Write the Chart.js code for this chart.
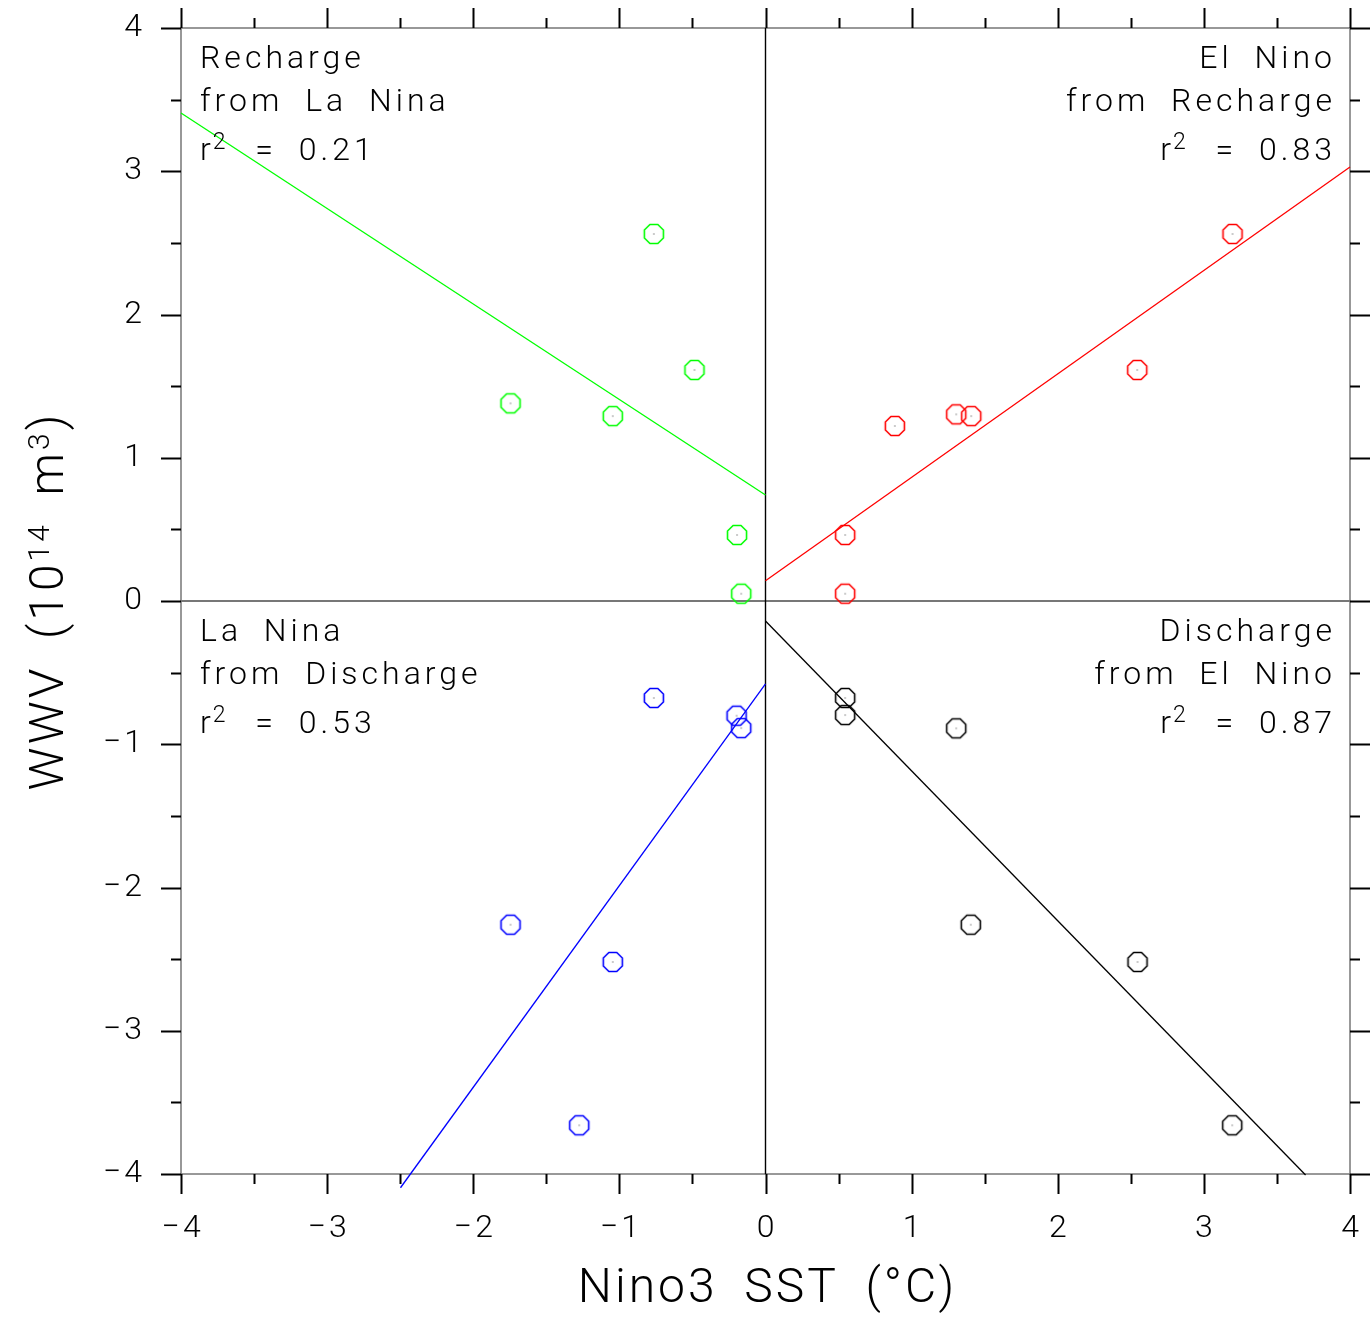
<!DOCTYPE html>
<html>
<head>
<meta charset="utf-8">
<script src="https://cdn.jsdelivr.net/npm/chart.js@4.4.1/dist/chart.umd.min.js"></script>
<style>
  html, body { margin:0; padding:0; background:#fff; }
  #wrap { width:1371px; height:1320px; }
</style>
</head>
<body>
<div id="wrap"><canvas id="c" width="1371" height="1320"></canvas></div>
<script>
// Scatter points per phase (Nino3 SST in °C, WWV in 10^14 m^3)
const rechargeX = [-1.745, -1.045, -0.764, -0.486, -0.195, -0.166]
const rechargeY = [1.380, 1.291, 2.562, 1.613, 0.461, 0.051]
const elNinoX = [0.545, 0.545, 0.885, 1.305, 1.408, 2.544, 3.196]
const elNinoY = [0.461, 0.051, 1.222, 1.303, 1.291, 1.613, 2.562]
const dischargeX = [0.545, 0.545, 1.305, 1.405, 2.546, 3.194]
const dischargeY = [-0.677, -0.796, -0.889, -2.260, -2.520, -3.660]
const laNinaX = [-1.745, -1.045, -1.275, -0.764, -0.198, -0.166]
const laNinaY = [-2.260, -2.520, -3.660, -0.677, -0.801, -0.887]

// Regression line end points
const rechargeFitX = [-4, 0], rechargeFitY = [3.407, 0.740]
const elNinoFitX = [0, 4], elNinoFitY = [0.142, 3.030]
const dischargeFitX = [0, 3.696], dischargeFitY = [-0.140, -4.007]
const laNinaFitX = [-2.498, 0], laNinaFitY = [-4.096, -0.579]

// Axis ranges and ticks
const xRange = [-4, 4], yRange = [-4, 4]
const tickStep = 0.5

// Quadrant labels
const quadLabels = [
  { pos: 'tl', lines: ['Recharge', 'from La Nina'], r2: '0.21' },
  { pos: 'tr', lines: ['El Nino', 'from Recharge'], r2: '0.83' },
  { pos: 'bl', lines: ['La Nina', 'from Discharge'], r2: '0.53' },
  { pos: 'br', lines: ['Discharge', 'from El Nino'], r2: '0.87' }
]
const xTitle = 'Nino3 SST (°C)'
const yTitleParts = [['WWV (10', false], ['14', true], [' m', false], ['3', true], [')', false]]

const FONT = 'Roboto, "DejaVu Sans", sans-serif'

function zip(xs, ys){ return xs.map((x,i)=>({x, y:ys[i]})) }
function fmtTick(v){
  if (Math.abs(v - Math.round(v)) > 1e-6) return ''
  return v < 0 ? '\u2212\u200A' + Math.abs(v) : String(v)
}

function octagon(color){
  const c = document.createElement('canvas'); c.width = 26; c.height = 26
  const g = c.getContext('2d')
  g.strokeStyle = color; g.lineWidth = 1.6
  g.beginPath()
  for (let k=0;k<8;k++){
    const a = (22.5 + 45*k) * Math.PI/180
    const px = 13 + 10.3*Math.cos(a), py = 13 + 10.3*Math.sin(a)
    k ? g.lineTo(px,py) : g.moveTo(px,py)
  }
  g.closePath(); g.stroke()
  g.fillStyle = '#333'; g.fillRect(12.5,12.5,1,1)
  return c
}

function scatterSet(label, xs, ys, color){
  return { type:'scatter', label, data: zip(xs, ys), pointStyle: octagon(color),
    pointRadius: 10, pointHoverRadius: 10, borderColor: color, backgroundColor: color, order: 1 }
}
function fitSet(label, xs, ys, color){
  return { type:'line', label, data: zip(xs, ys), borderColor: color, borderWidth: 1.3,
    pointRadius: 0, fill: false, clip: false, order: 2 }
}

// frame, zero lines, outward ticks
const framePlugin = {
  id: 'frame',
  beforeDatasetsDraw(chart){
    const {ctx, chartArea:a, scales:{x, y}} = chart
    ctx.save()
    ctx.lineWidth = 1.5
    ctx.strokeStyle = '#777'
    ctx.strokeRect(a.left, a.top, a.right - a.left, a.bottom - a.top)
    const y0 = y.getPixelForValue(0), x0 = x.getPixelForValue(0)
    ctx.beginPath(); ctx.moveTo(a.left, y0); ctx.lineTo(a.right, y0); ctx.lineWidth = 2; ctx.stroke()
    ctx.strokeStyle = '#000'; ctx.lineWidth = 1.4
    ctx.beginPath(); ctx.moveTo(x0, a.top); ctx.lineTo(x0, a.bottom); ctx.stroke()
    ctx.restore()
  },
  afterDraw(chart){
    const {ctx, chartArea:a, scales:{x, y}} = chart
    ctx.save()
    ctx.strokeStyle = '#000'; ctx.lineWidth = 2
    ctx.beginPath()
    for (let v = xRange[0]; v <= xRange[1] + 1e-9; v += tickStep){
      const p = Math.round(x.getPixelForValue(v)) + 0.5
      const len = Math.abs(v - Math.round(v)) < 1e-6 ? 20 : 10
      ctx.moveTo(p, a.bottom); ctx.lineTo(p, a.bottom + len)
      ctx.moveTo(p, a.top); ctx.lineTo(p, a.top - len)
    }
    for (let v = yRange[0]; v <= yRange[1] + 1e-9; v += tickStep){
      const p = Math.round(y.getPixelForValue(v)) + 0.5
      const len = Math.abs(v - Math.round(v)) < 1e-6 ? 20 : 10
      ctx.moveTo(a.left, p); ctx.lineTo(a.left - len, p)
      ctx.moveTo(a.right, p); ctx.lineTo(a.right + len, p)
    }
    ctx.stroke()
    ctx.restore()
  }
}

function setFont(ctx, size){ ctx.font = `300 ${size}px ${FONT}` }

// quadrant annotations and axis titles
const textPlugin = {
  id: 'texts',
  afterDatasetsDraw(chart){
    const {ctx, chartArea:a, scales:{x, y}} = chart
    const y0 = y.getPixelForValue(0)
    ctx.save()
    ctx.fillStyle = '#000'
    ctx.textBaseline = 'alphabetic'
    ctx.letterSpacing = '4px'; ctx.wordSpacing = '10px'
    quadLabels.forEach(q => {
      const top = q.pos[0] === 't' ? a.top : y0
      const left = q.pos[1] === 'l'
      const bases = [top + 40, top + 83, top + 132]
      setFont(ctx, 32)
      q.lines.forEach((s, i) => {
        ctx.textAlign = left ? 'left' : 'right'
        ctx.fillText(s, left ? a.left + 19 : a.right - 14, bases[i])
      })
      // r^2 = value
      ctx.textAlign = 'left'
      setFont(ctx, 32); const wr = ctx.measureText('r').width
      setFont(ctx, 23); const ws = ctx.measureText('2').width
      setFont(ctx, 32); const rest = ' = ' + q.r2; const wv = ctx.measureText(rest).width
      let sx = left ? a.left + 19 : a.right - 14 - (wr + ws + 2 + wv)
      ctx.fillText('r', sx, bases[2]); sx += wr - 2
      setFont(ctx, 23); ctx.fillText('2', sx, bases[2] - 11); sx += ws + 4
      setFont(ctx, 32); ctx.fillText(rest, sx, bases[2])
    })

    // x title
    setFont(ctx, 48); ctx.letterSpacing = '3px'; ctx.wordSpacing = '12px'
    ctx.textAlign = 'center'; ctx.textBaseline = 'middle'
    ctx.fillText(xTitle, (a.left + a.right)/2 + 2, 1290)

    // y title with superscripts, rotated
    ctx.translate(46, (a.top + a.bottom)/2)
    ctx.rotate(-Math.PI/2)
    ctx.textAlign = 'left'; ctx.textBaseline = 'alphabetic'
    let total = 0
    yTitleParts.forEach(([s, sup]) => { setFont(ctx, sup ? 30 : 48); total += ctx.measureText(s).width })
    let px = -total/2
    yTitleParts.forEach(([s, sup]) => {
      setFont(ctx, sup ? 30 : 48)
      ctx.fillText(s, px, sup ? 3 : 17)
      px += ctx.measureText(s).width
    })
    ctx.restore()
  }
}

const tickFont = { family: FONT, size: 32, weight: 300 }

new Chart(document.getElementById('c'), {
  data: {
    datasets: [
      scatterSet('Recharge', rechargeX, rechargeY, '#00ff00'),
      scatterSet('El Nino', elNinoX, elNinoY, '#ff0000'),
      scatterSet('Discharge', dischargeX, dischargeY, '#000000'),
      scatterSet('La Nina', laNinaX, laNinaY, '#0000ff'),
      fitSet('Recharge fit', rechargeFitX, rechargeFitY, '#00ff00'),
      fitSet('El Nino fit', elNinoFitX, elNinoFitY, '#ff0000'),
      fitSet('Discharge fit', dischargeFitX, dischargeFitY, '#000000'),
      fitSet('La Nina fit', laNinaFitX, laNinaFitY, '#0000ff')
    ]
  },
  options: {
    responsive: false,
    animation: false,
    devicePixelRatio: 1,
    layout: { padding: { top: 28, right: 21, left: 0, bottom: 0 } },
    plugins: { legend: { display: false }, tooltip: { enabled: false } },
    scales: {
      x: {
        type: 'linear', min: xRange[0], max: xRange[1],
        grid: { display: false, drawTicks: false }, border: { display: false },
        ticks: { stepSize: tickStep, autoSkip: false, maxRotation: 0, padding: 36, color: '#000', font: tickFont, callback: fmtTick },
        afterFit(s){ s.height = 146; s.paddingLeft = 0; s.paddingRight = 0 }
      },
      y: {
        type: 'linear', min: yRange[0], max: yRange[1],
        grid: { display: false, drawTicks: false }, border: { display: false },
        ticks: { stepSize: tickStep, autoSkip: false, padding: 39, color: '#000', font: tickFont, callback: fmtTick },
        afterFit(s){ s.width = 181; s.paddingTop = 0; s.paddingBottom = 0 }
      }
    }
  },
  plugins: [framePlugin, textPlugin]
})
</script>
</body>
</html>
